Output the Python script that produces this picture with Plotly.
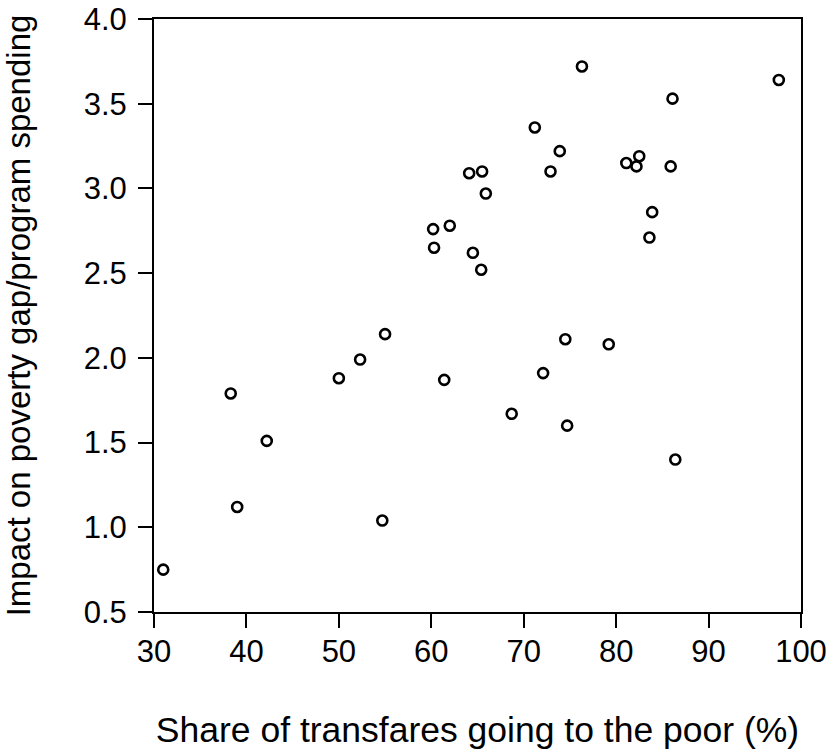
import plotly.graph_objects as go

# Share of transfers going to the poor (%)
share_to_poor = [
    64.1, 65.5, 65.9, 60.2, 62.0, 60.3, 64.5, 65.4,
    76.3, 97.6, 86.1, 71.2, 73.9, 72.9, 81.1, 82.5,
    82.2, 85.9, 83.9, 83.6, 55.0, 52.3, 50.0, 61.4,
    38.3, 42.2, 39.0, 54.7, 31.0, 74.5, 79.2, 72.1,
    68.7, 74.7, 86.4,
]
# Impact on poverty gap / program spending
impact_ratio = [
    3.09, 3.10, 2.97, 2.76, 2.78, 2.65, 2.62, 2.52,
    3.72, 3.64, 3.53, 3.36, 3.22, 3.10, 3.15, 3.19,
    3.13, 3.13, 2.86, 2.71, 2.14, 1.99, 1.88, 1.87,
    1.79, 1.51, 1.12, 1.04, 0.75, 2.11, 2.08, 1.91,
    1.67, 1.60, 1.40,
]

x_ticks = [30, 40, 50, 60, 70, 80, 90, 100]
y_ticks = [0.5, 1.0, 1.5, 2.0, 2.5, 3.0, 3.5, 4.0]
y_tick_text = ["0.5", "1.0", "1.5", "2.0", "2.5", "3.0", "3.5", "4.0"]

x_title = "Share of transfares going to the poor (%)"
y_title = "Impact on poverty gap/program spending"

FONT = "Liberation Sans, Arial, Helvetica, sans-serif"

fig = go.Figure()
fig.add_trace(go.Scatter(
    x=share_to_poor,
    y=impact_ratio,
    mode="markers",
    marker=dict(symbol="circle-open", size=10, color="black",
                line=dict(color="black", width=2.6)),
    showlegend=False,
))

axis_common = dict(
    showgrid=False,
    zeroline=False,
    showline=True,
    linecolor="black",
    linewidth=2,
    mirror=True,
    ticks="outside",
    ticklen=14,
    tickwidth=2,
    tickcolor="black",
    automargin=False,
    ticklabeloverflow="allow",
)

fig.update_layout(
    template="none",
    width=830,
    height=750,
    paper_bgcolor="white",
    plot_bgcolor="white",
    margin=dict(l=154, r=29, t=19, b=138),
    font=dict(family=FONT, color="black"),
    xaxis=dict(
        range=[30, 100],
        tickvals=x_ticks,
        tickfont=dict(size=31, family=FONT, color="black"),
        ticklabelstandoff=-3,
        title=dict(text=x_title, font=dict(size=35.5, family=FONT, color="black"),
                   standoff=57),
        **axis_common,
    ),
    yaxis=dict(
        range=[0.5, 4.0],
        tickvals=y_ticks,
        ticktext=y_tick_text,
        tickfont=dict(size=31, family=FONT, color="black"),
        ticklabelstandoff=5,
        title=dict(text=y_title, font=dict(size=33, family=FONT, color="black"),
                   standoff=56),
        **axis_common,
    ),
)

# remove the default page margin so the figure fills the 830x750 window
fig.write_html(
    "out.html",
    config={"displayModeBar": False},
    post_script="document.body.style.margin='0';",
)
